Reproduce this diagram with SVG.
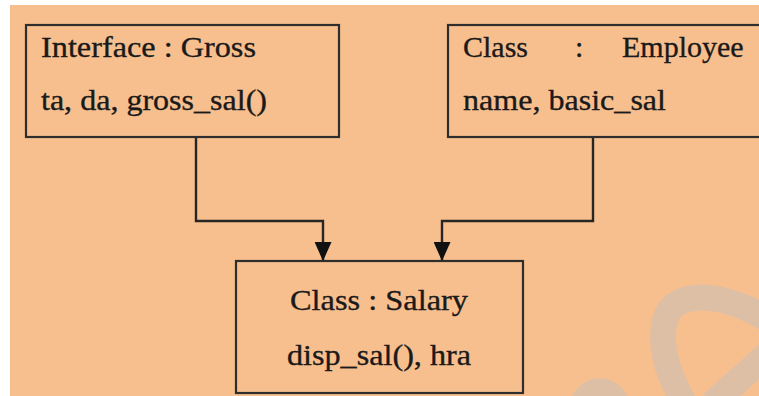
<svg xmlns="http://www.w3.org/2000/svg" width="759" height="396" viewBox="0 0 759 396">
  <defs>
    <style>
      .box { fill: none; stroke: #2e2e2e; stroke-width: 2.2; }
      .conn { fill: none; stroke: #262626; stroke-width: 2.4; }
      .lbl { font-family: "Liberation Serif", "Times New Roman", serif; font-size: 30px; fill: #1a1a1a; stroke: #1a1a1a; stroke-width: 0.35; }
      .wm { fill: none; stroke: #DDBFA6; stroke-width: 26; stroke-linejoin: round; }
    </style>
    <marker id="arr" viewBox="0 0 19 17" markerWidth="19" markerHeight="17" refX="19" refY="8.5" orient="auto" markerUnits="userSpaceOnUse">
      <path d="M0,0 L19,8.5 L0,17 z" fill="#111"/>
    </marker>
  </defs>

  <rect x="0" y="0" width="759" height="396" fill="#ffffff"/>
  <rect x="10" y="5" width="749" height="391" fill="#F8BF8E"/>

  <g id="watermark">
    <path class="wm" d="M702 428 C672 392 655 345 667 315 C680 285 742 295 789 335 L712 404"/>
    <ellipse class="wm" cx="600" cy="416" rx="19.4" ry="25"/>
  </g>

  <g id="connectors">
    <path class="conn" d="M196 137 L196 221 L323 221 L323 261" marker-end="url(#arr)"/>
    <path class="conn" d="M593 137 L593 221 L442 221 L442 261" marker-end="url(#arr)"/>
  </g>

  <g id="gross">
    <rect class="box" x="26" y="25" width="313" height="112"/>
    <text class="lbl" x="41" y="57" textLength="215" lengthAdjust="spacingAndGlyphs">Interface : Gross</text>
    <text class="lbl" x="41" y="110" textLength="226" lengthAdjust="spacingAndGlyphs">ta, da, gross_sal()</text>
  </g>

  <g id="employee">
    <rect class="box" x="448" y="25" width="330" height="112"/>
    <text class="lbl" y="57"><tspan x="463">Class</tspan><tspan x="575">:</tspan><tspan x="622">Employee</tspan></text>
    <text class="lbl" x="463" y="110" textLength="203" lengthAdjust="spacingAndGlyphs">name, basic_sal</text>
  </g>

  <g id="salary">
    <rect class="box" x="236" y="261" width="287" height="132"/>
    <text class="lbl" x="290" y="310" textLength="178" lengthAdjust="spacingAndGlyphs">Class : Salary</text>
    <text class="lbl" x="287" y="365" textLength="184" lengthAdjust="spacingAndGlyphs">disp_sal(), hra</text>
  </g>
</svg>
